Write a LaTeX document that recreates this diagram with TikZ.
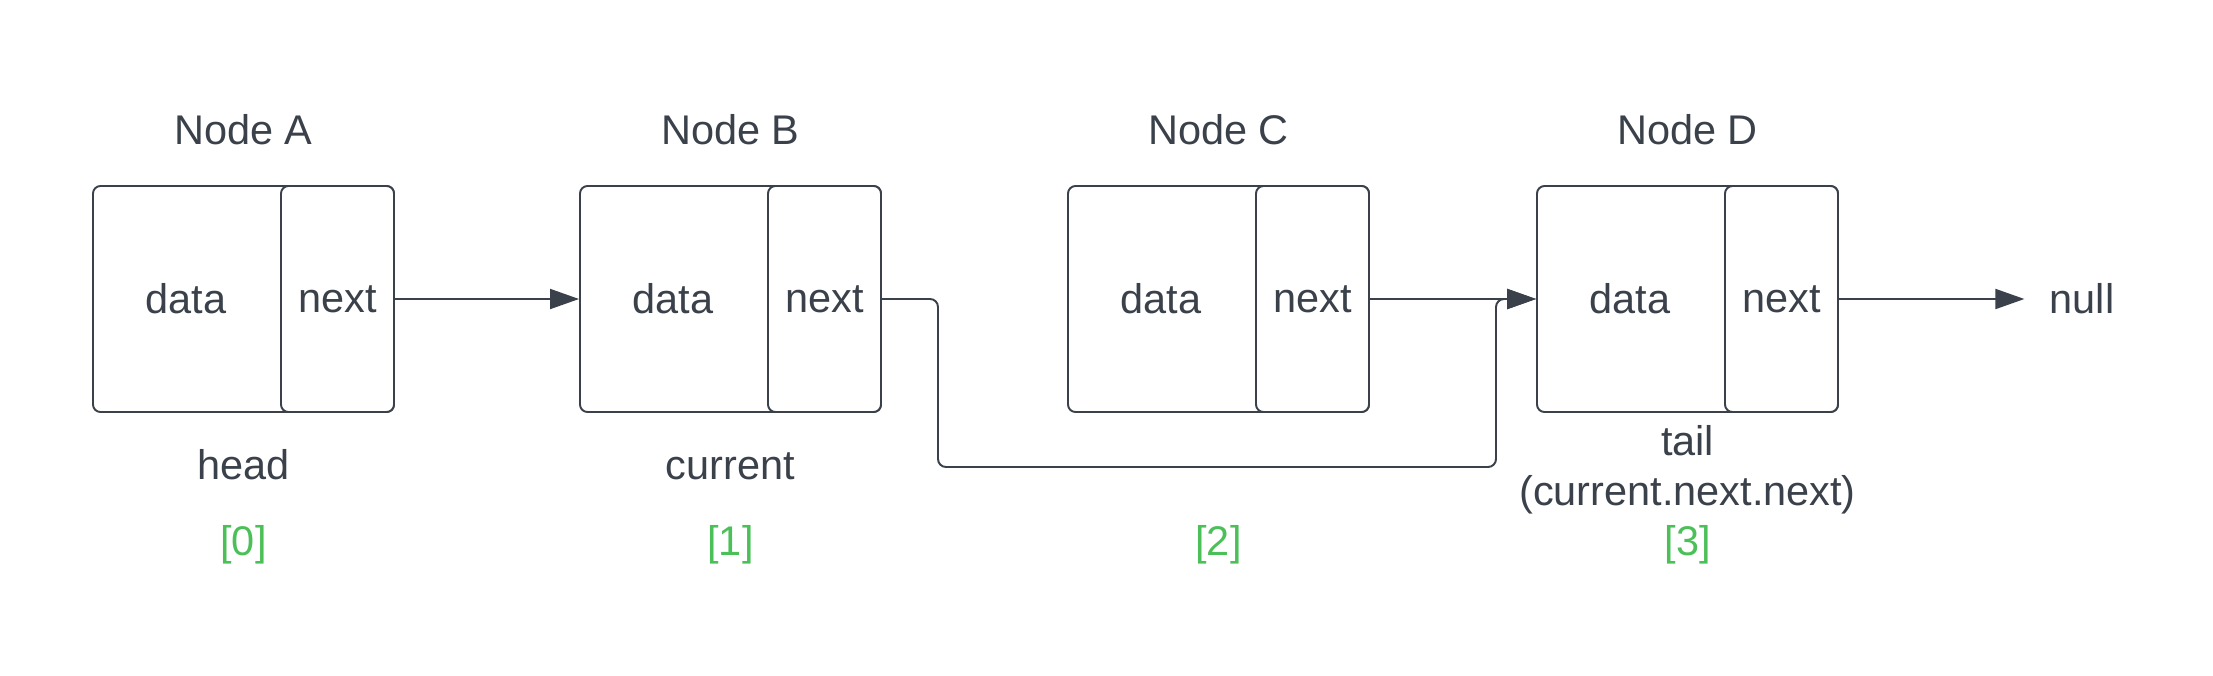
\documentclass[tikz,border=0pt]{standalone}
\usepackage{fontspec}
\setmainfont{Liberation Sans}
\usetikzlibrary{positioning,calc,arrows.meta}
\definecolor{ink}{RGB}{58,65,74}
\definecolor{idxgreen}{RGB}{76,192,88}

\begin{document}
\begin{tikzpicture}[
    every node/.style={font=\fontsize{23.6}{28}\selectfont, text=ink},
    frame/.style={draw=ink, line width=1.1pt, rectangle, rounded corners=0.15cm, minimum width=6.02cm, minimum height=4.52cm},
    nextcell/.style={draw=ink, fill=white, line width=1.1pt, rectangle, rounded corners=0.15cm, minimum width=2.26cm, minimum height=4.52cm, anchor=east},
    tag/.style={inner sep=0pt, text height=0.6cm, text depth=0cm},
    idx/.style={tag, text=idxgreen},
    link/.style={draw=ink, line width=1.1pt, -{Triangle[length=0.58cm,width=0.4cm]}}
  ]
    \useasboundingbox (0,0) rectangle (44.26,-13.5);

    % List nodes
    \node[frame] (A) at (4.87,-5.98) {};
    \node[nextcell] (A-next) at (A.east) {next};
    \node (A-data) at ($(A.west)!0.5!(A-next.west)$) {data};

    \node[frame] (B) at (14.61,-5.98) {};
    \node[nextcell] (B-next) at (B.east) {next};
    \node (B-data) at ($(B.west)!0.5!(B-next.west)$) {data};

    \node[frame] (C) at (24.37,-5.98) {};
    \node[nextcell] (C-next) at (C.east) {next};
    \node (C-data) at ($(C.west)!0.5!(C-next.west)$) {data};

    \node[frame] (D) at (33.75,-5.98) {};
    \node[nextcell] (D-next) at (D.east) {next};
    \node (D-data) at ($(D.west)!0.5!(D-next.west)$) {data};

    \node[inner xsep=0.5cm] (null) at (41.64,-5.98) {null};

    % Titles
    \node[tag, above=0.8cm of A] (A-title) {Node A};
    \node[tag, above=0.8cm of B] (B-title) {Node B};
    \node[tag, above=0.8cm of C] (C-title) {Node C};
    \node[tag, above=0.8cm of D] (D-title) {Node D};

    % Names under the nodes
    \node[tag, below=0.72cm of A] (A-name) {head};
    \node[tag, below=0.72cm of B] (B-name) {current};
    \node[tag, below=0.24cm of D] (D-name) {tail};
    \node[tag, below=0.38cm of D-name] (D-ref) {(current.next.next)};

    % Indices
    \node[idx, below=2.24cm of A] (A-idx) {[0]};
    \node[idx, below=2.24cm of B] (B-idx) {[1]};
    \node[idx, below=2.24cm of C] (C-idx) {[2]};
    \node[idx, below=2.24cm of D] (D-idx) {[3]};

    % Pointers
    \coordinate (skip1) at (18.76,-9.34);
    \coordinate (skip2) at (29.92,-9.34);
    \draw[link] (A-next.east) -- (B.west);
    \draw[link, rounded corners=0.16cm] (B-next.east) -| (skip1) -- (skip2) |- (D.west);
    \draw[link] (C-next.east) -- (D.west);
    \draw[link] (D-next.east) -- (null.west);
\end{tikzpicture}
\end{document}
